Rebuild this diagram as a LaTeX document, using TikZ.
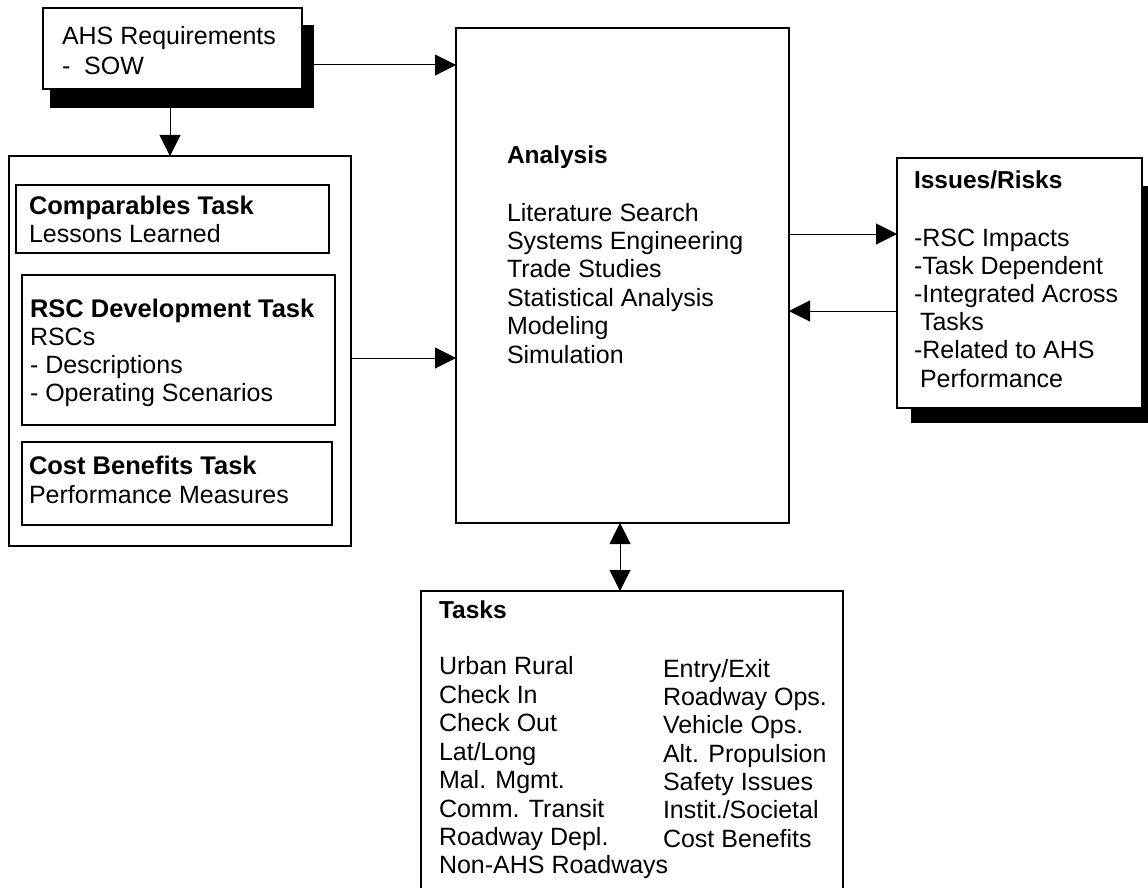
\documentclass[tikz,border=0pt]{standalone}
\usepackage{fontspec}
\setmainfont{Liberation Sans}
\usetikzlibrary{arrows.meta}
\begin{document}
\begin{tikzpicture}[x=1pt,y=-1pt,
  box/.style={draw, line width=1.2pt, fill=white, rectangle, inner sep=0pt, outer sep=0pt, anchor=north west},
  shadowbox/.style={fill=black, rectangle, inner sep=0pt, outer sep=0pt, anchor=north west},
  txt/.style={anchor=base west, inner sep=0pt, outer sep=0pt, font=\fontsize{25}{28}\selectfont},
  hbold/.style={txt, font=\fontsize{24.5}{28}\selectfont\bfseries},
  lbold/.style={txt, font=\fontsize{25.5}{28}\selectfont\bfseries},
  conn/.style={line width=1pt, -{Triangle[length=21pt,width=21pt]}},
  conn2/.style={line width=1pt, {Triangle[length=21pt,width=21pt]}-{Triangle[length=21pt,width=21pt]}}]
\useasboundingbox (0,0) rectangle (1148,888);
\clip (0,0) rectangle (1148,888);
% AHS requirements
\node[shadowbox, minimum width=264pt, minimum height=83pt] (ahsshadow) at (50,25) {};
\node[box, minimum width=259pt, minimum height=81pt] (ahs) at (43,8) {};
\node[txt] (ahs1) at (62,45) {AHS Requirements};
\node[txt] (ahs2) at (62,75) {-\ \ SOW};
% left group
\node[box, minimum width=342pt, minimum height=390pt] (left) at (9,156) {};
\node[box, minimum width=313pt, minimum height=68pt] (comp) at (16,185) {};
\node[lbold] (comp1) at (29,214) {Comparables Task};
\node[txt] (comp2) at (29,242) {Lessons Learned};
\node[box, minimum width=313pt, minimum height=150pt] (rsc) at (22,275) {};
\node[lbold] (rsc1) at (30,317) {RSC Development Task};
\node[txt] (rsc2) at (30,345) {RSCs};
\node[txt] (rsc3) at (30,373) {- Descriptions};
\node[txt] (rsc4) at (30,401) {- Operating Scenarios};
\node[box, minimum width=310pt, minimum height=83pt] (cost) at (22,442) {};
\node[lbold] (cost1) at (29,474) {Cost Benefits Task};
\node[txt] (cost2) at (29,503) {Performance Measures};
% analysis
\node[box, minimum width=333pt, minimum height=495pt] (analysis) at (456,28) {};
\node[hbold] (an0) at (507,164) {Analysis};
\node[txt] (an1) at (507,221) {Literature Search};
\node[txt] (an2) at (507,249.4) {Systems Engineering};
\node[txt] (an3) at (507,277.8) {Trade Studies};
\node[txt] (an4) at (507,306.2) {Statistical Analysis};
\node[txt] (an5) at (507,334.6) {Modeling};
\node[txt] (an6) at (507,363) {Simulation};
% issues
\node[shadowbox, minimum width=237pt, minimum height=237pt] (issshadow) at (911,186) {};
\node[box, minimum width=245pt, minimum height=250pt] (issues) at (897,158) {};
\node[hbold] (is0) at (914,188) {Issues/Risks};
\node[txt] (is1) at (914,246) {-RSC Impacts};
\node[txt] (is2) at (914,274) {-Task Dependent};
\node[txt] (is3) at (914,302) {-Integrated Across};
\node[txt] (is4) at (920,330) {Tasks};
\node[txt] (is5) at (914,358) {-Related to AHS};
\node[txt] (is6) at (920,387) {Performance};
% tasks
\node[box, minimum width=422pt, minimum height=310pt] (tasks) at (421,591) {};
\node[hbold] (tk0) at (439,618) {Tasks};
\node[txt] (tl1) at (439,674) {Urban Rural};
\node[txt] (tl2) at (439,703) {Check In};
\node[txt] (tl3) at (439,731.5) {Check Out};
\node[txt] (tl4) at (439,760) {Lat/Long};
\node[txt] (tl5) at (439,788) {Mal. Mgmt.};
\node[txt] (tl6) at (439,817) {Comm. Transit};
\node[txt] (tl7) at (439,845) {Roadway Depl.};
\node[txt] (tl8) at (439,873) {Non-AHS Roadways};
\node[txt] (tr1) at (663,677) {Entry/Exit};
\node[txt] (tr2) at (663,705) {Roadway Ops.};
\node[txt] (tr3) at (663,733.5) {Vehicle Ops.};
\node[txt] (tr4) at (663,762) {Alt. Propulsion};
\node[txt] (tr5) at (663,790) {Safety Issues};
\node[txt] (tr6) at (663,818) {Instit./Societal};
\node[txt] (tr7) at (663,847) {Cost Benefits};
% connectors
\draw[conn] (ahsshadow.east |- 0,65) -- (analysis.west |- 0,65);
\draw[conn] (ahsshadow.south -| 170,0) -- (left.north -| 170,0);
\draw[conn] (left.east |- 0,358) -- (analysis.west |- 0,358);
\draw[conn] (analysis.east |- 0,234) -- (issues.west |- 0,234);
\draw[conn] (issues.west |- 0,311) -- (analysis.east |- 0,311);
\draw[conn2] (analysis.south -| 620,0) -- (tasks.north -| 620,0);
\end{tikzpicture}
\end{document}
